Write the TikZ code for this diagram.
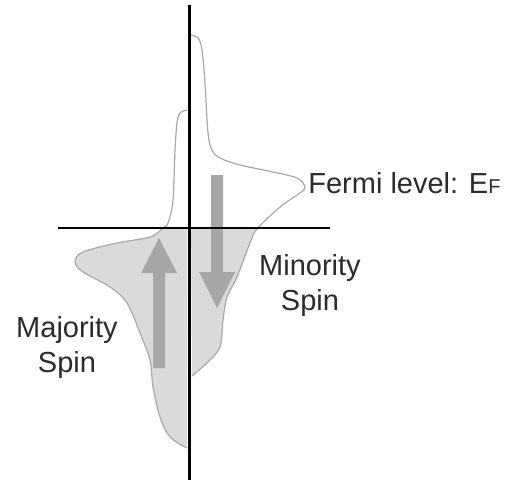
\documentclass[tikz,border=0pt]{standalone}
\usepackage{fontspec}
\setmainfont{Liberation Sans}
\usetikzlibrary{positioning}
\definecolor{dosline}{HTML}{A8A8A8}
\definecolor{dosfill}{HTML}{DADADA}
\definecolor{spinarrow}{HTML}{A6A6A6}
\definecolor{labeltext}{HTML}{2B2B2B}
\tikzset{
  axisline/.style={draw=black, line width=1.5pt},
  levelline/.style={draw=black, line width=1pt},
  dosedge/.style={draw=dosline, line width=0.6pt},
  spinbar/.style={fill=spinarrow},
  spinlabel/.style={
    text=labeltext,
    font=\fontsize{14.5}{17.5}\selectfont,
    inner sep=0pt,
    align=center
  }
}
% the two halves of the density of states
\def\minoritydos{plot[smooth, tension=0.55] coordinates {(190,35) (198,38) (202,50) (205,83) (208,133) (212,150) (220,158) (240,165) (273,172) (297,178) (305,187) (300,193) (280,207) (257,229) (250,243) (237,277) (227,297) (223,320) (220,347) (207,363) (192,376)}}
\def\majoritydos{plot[smooth, tension=0.55] coordinates {(187,110) (180,113) (177,123) (175,150) (173,200) (168,223) (163,228) (150,237) (117,243) (83,252) (75,262) (83,272) (110,287) (127,303) (140,333) (150,360) (153,387) (160,417) (170,437) (187,448)}}

\begin{document}
\begin{tikzpicture}[x=0.5pt, y=-0.5pt]
\useasboundingbox (0,0) rectangle (508,482);

% occupied states below E_F
\begin{scope}
  \clip (0,228) rectangle (508,482);
  \fill[dosfill] \minoritydos -- cycle;
  \fill[dosfill] \majoritydos -- cycle;
\end{scope}
\draw[dosedge] \minoritydos;
\draw[dosedge] \majoritydos;

% spin arrows
\fill[spinbar] (153,368) -- (153,273) -- (141,273) -- (159,238) -- (177,273) -- (165,273) -- (165,368) -- cycle;
\fill[spinbar] (211,175) -- (211,272) -- (199,272) -- (217,308) -- (235,272) -- (223,272) -- (223,175) -- cycle;

% axes
\draw[levelline] (58,228) -- (330,228);
\draw[axisline] (189,5) -- (189,480);

\node[spinlabel, anchor=base west] (fermi) at (308,193) {Fermi level: E{\fontsize{10}{12}\selectfont F}};
\node[spinlabel, anchor=base] (minority) at (310,310) {Minority\\Spin};
\node[spinlabel, anchor=base] (majority) at (67,372) {Majority\\Spin};
\end{tikzpicture}
\end{document}
